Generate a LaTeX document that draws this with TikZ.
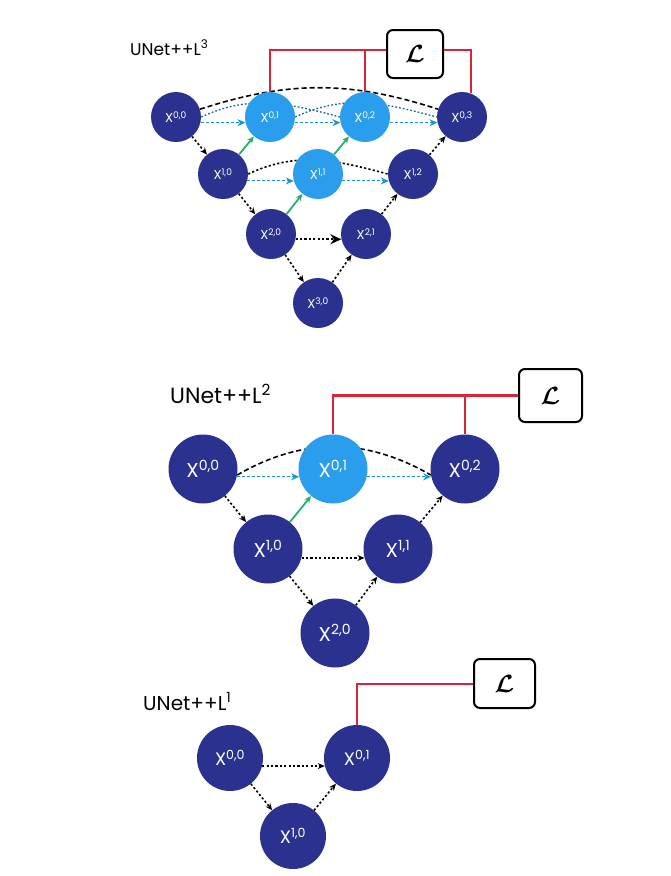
\documentclass[tikz,border=0pt]{standalone}
\usepackage{bm}
\usepackage{fontspec}
\setmainfont{Poppins}
\usetikzlibrary{arrows.meta,backgrounds}
\definecolor{navy}{RGB}{43,49,143}
\definecolor{skyblue}{RGB}{42,157,236}
\definecolor{skipcol}{RGB}{28,150,205}
\definecolor{upgreen}{RGB}{39,174,110}
\definecolor{lossred}{RGB}{218,37,55}
\tikzset{
  unet/.style={circle, fill=navy, text=white, inner sep=0pt, minimum size=#1},
  hot/.style={fill=skyblue},
  down/.style={line width=1.6pt, dash pattern=on 2.2pt off 2.2pt, -{Stealth[length=7pt,width=6pt]}},
  skip/.style={skipcol, line width=1pt, dash pattern=on 3pt off 2pt, -{Stealth[length=8pt,width=7pt]}},
  dense/.style={skipcol!70!black, line width=1.3pt, dash pattern=on 1.8pt off 2pt},
  up/.style={upgreen, line width=1.8pt, -{Stealth[length=7pt,width=6pt]}},
  bigarc/.style={line width=1.6pt, dash pattern=on 5pt off 3pt},
  lossbox/.style={draw, line width=2pt, rounded corners=6pt, fill=white, inner sep=0pt},
  lossline/.style={lossred, line width=2.2pt},
  lbl/.style={anchor=base west, inner sep=0pt}
}
\newcommand{\tx}[1]{\fontsize{13}{13}\selectfont X\textsuperscript{#1}}
\newcommand{\mx}[1]{\fontsize{20}{20}\selectfont X\textsuperscript{#1}}
\newcommand{\bx}[1]{\fontsize{18}{18}\selectfont X\textsuperscript{#1}}
\newcommand{\lossL}[1]{\fontsize{#1}{#1}\selectfont$\bm{\mathcal{L}}$}
\begin{document}
\begin{tikzpicture}[x=1pt, y=-1pt]
\useasboundingbox (0,0) rectangle (670,876);
\node[lbl] (tname) at (130,55) {\fontsize{17}{17}\selectfont UNet++L\textsuperscript{3}};
\node[unet=50pt] (t00) at (176,117) {\tx{0,0}};
\node[unet=50pt, hot] (t01) at (270,117) {\tx{0,1}};
\node[unet=50pt, hot] (t02) at (365,117) {\tx{0,2}};
\node[unet=50pt] (t03) at (462,117) {\tx{0,3}};
\node[unet=50pt] (t10) at (223,174) {\tx{1,0}};
\node[unet=50pt, hot] (t11) at (318,174) {\tx{1,1}};
\node[unet=50pt] (t12) at (413,174) {\tx{1,2}};
\node[unet=50pt] (t20) at (271,234) {\tx{2,0}};
\node[unet=50pt] (t21) at (366,234) {\tx{2,1}};
\node[unet=50pt] (t30) at (318,303) {\tx{3,0}};
\node[lossbox, minimum width=56pt, minimum height=48pt] (tloss) at (415,54) {\lossL{28}};
\begin{scope}[on background layer]
\draw[bigarc] (t00) to[out=18, in=162] (t03);
\draw[dense] (t00.east) to[out=25, in=165] (t02.west);
\draw[dense] (t01.east) to[out=25, in=165] (t03.west);
\draw[down, -] (t10.east) to[out=25, in=165] (t12.west);
\end{scope}
\draw[skip] (t00.-13) -- (t01.193);
\draw[skip] (t01.-13) -- (t02.193);
\draw[skip] (t02.-13) -- (t03.193);
\draw[skip] (t10.-16) -- (t11.196);
\draw[skip] (t11.-16) -- (t12.196);
\draw[down] (t00) -- (t10);
\draw[down] (t10) -- (t20);
\draw[down] (t20) -- (t30);
\draw[down] (t30) -- (t21);
\draw[down] (t21) -- (t12);
\draw[down] (t12) -- (t03);
\draw[down, -{Stealth[length=11pt,width=10pt]}] (t20.-12) -- (t21.192);
\draw[up] (t10) -- (t01);
\draw[up] (t20) -- (t11);
\draw[up] (t11) -- (t02);
\draw[lossline] (t01.north) |- ([yshift=4pt]tloss.west);
\draw[lossline] (t02.north) |- ([yshift=4pt]tloss.west);
\draw[lossline] ([yshift=4pt]tloss.east) -| (t03.70);
\node[lbl] (mname) at (170,403) {\fontsize{22}{22}\selectfont UNet++L\textsuperscript{2}};
\node[unet=69pt] (m00) at (203,469) {\mx{0,0}};
\node[unet=69pt, hot] (m01) at (333,469) {\mx{0,1}};
\node[unet=69pt] (m02) at (465,469) {\mx{0,2}};
\node[unet=69pt] (m10) at (268,549) {\mx{1,0}};
\node[unet=69pt] (m11) at (398,549) {\mx{1,1}};
\node[unet=69pt] (m20) at (335,633) {\mx{2,0}};
\node[lossbox, minimum width=63pt, minimum height=53pt] (mloss) at (550.5,395.5) {\lossL{34}};
\begin{scope}[on background layer]
\draw[bigarc] (m00.-10) to[out=30, in=150] (m02.190);
\end{scope}
\draw[skip] (m00.-13) -- (m01.193);
\draw[skip] (m01.-13) -- (m02.193);
\draw[down] (m00) -- (m10);
\draw[down] (m10) -- (m20);
\draw[down] (m20) -- (m11);
\draw[down] (m11) -- (m02);
\draw[down] (m10.-15) -- (m11.195);
\draw[up] (m10) -- (m01);
\draw[lossline] (m01.north) |- (mloss.west);
\draw[lossline] (m02.north) |- (mloss.west);
\node[lbl] (bname) at (143,710) {\fontsize{20}{20}\selectfont UNet++L\textsuperscript{1}};
\node[unet=66pt] (b00) at (230,758) {\bx{0,0}};
\node[unet=66pt] (b01) at (357,758) {\bx{0,1}};
\node[unet=66pt] (b10) at (293,836) {\bx{1,0}};
\node[lossbox, minimum width=61pt, minimum height=49pt] (bloss) at (504.5,683.5) {\lossL{30}};
\draw[down] (b00.-14) -- (b01.194);
\draw[down] (b00) -- (b10);
\draw[down] (b10) -- (b01);
\draw[lossline, line width=2pt] (b01.north) |- (bloss.west);
\end{tikzpicture}
\end{document}
